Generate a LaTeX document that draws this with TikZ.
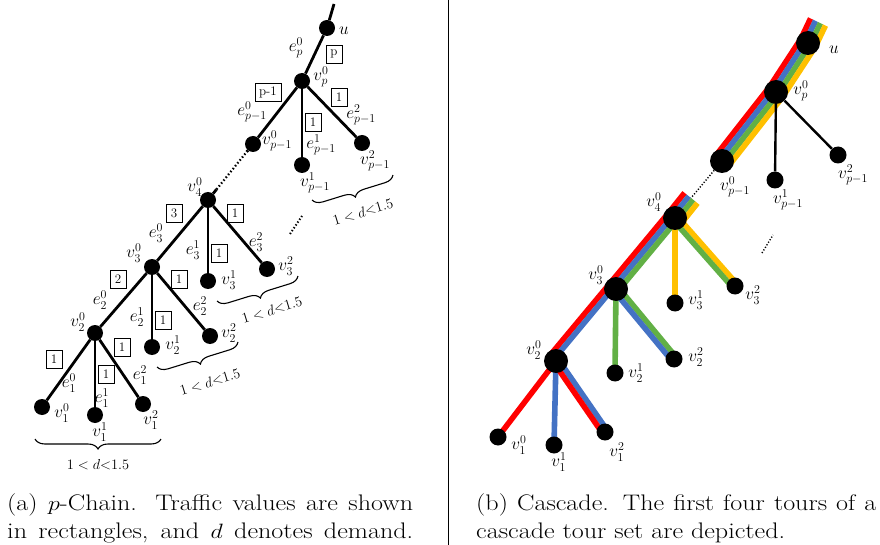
\documentclass[tikz,border=0pt]{standalone}
\usetikzlibrary{calc,backgrounds,decorations.pathreplacing}
\definecolor{tred}{HTML}{FF0000}
\definecolor{tblue}{HTML}{4472C4}
\definecolor{tgreen}{HTML}{62B045}
\definecolor{tyellow}{HTML}{FFC000}
\newcommand\tourband[4]{\draw[band,#1] ($(#2)!#4!90:(#3)$) -- ($(#3)!#4!-90:(#2)$);}
\begin{document}
\begin{tikzpicture}[x=1pt,y=-1pt,
  dotL/.style={circle, fill=black, inner sep=0pt, minimum size=16pt},
  bigR/.style={circle, fill=black, inner sep=0pt, minimum size=24pt},
  smallR/.style={circle, fill=black, inner sep=0pt, minimum size=17pt},
  edge/.style={line width=2.8pt},
  lab/.style={font=\fontsize{18}{20}\selectfont, inner sep=0pt},
  tbox/.style={draw, line width=0.8pt, font=\fontsize{13}{15}\selectfont, inner sep=0pt, minimum width=16pt, minimum height=18pt},
  band/.style={line width=5.6pt},
  brc/.style={decorate, decoration={brace, mirror, amplitude=10pt}, line width=1.1pt},
  dlab/.style={font=\fontsize{14}{16}\selectfont, inner sep=0pt},
  captext/.style={font=\fontsize{22.5}{26}\selectfont, inner sep=0pt, anchor=base west, xscale=1.16}
]
\useasboundingbox (0,0) rectangle (880,545);

% ---------- divider ----------
\coordinate (divT) at (448,0);
\coordinate (divB) at (448,545);
\draw[line width=1pt] (divT) -- (divB);

% ---------- (a) p-Chain ----------
\node[dotL] (Lu) at (327,28) {};
\node[dotL] (Lvp) at (302,81) {};
\node[dotL] (Lvp1) at (253,144) {};
\node[dotL] (Lvp1a) at (302,165) {};
\node[dotL] (Lvp1b) at (362,143) {};
\node[dotL] (Lv4) at (208,200) {};
\node[dotL] (Lv3) at (152,267) {};
\node[dotL] (Lv31) at (208,281) {};
\node[dotL] (Lv32) at (267,269) {};
\node[dotL] (Lv2) at (95,333) {};
\node[dotL] (Lv21) at (152,347) {};
\node[dotL] (Lv22) at (210,336) {};
\node[dotL] (Lv10) at (42,407) {};
\node[dotL] (Lv11) at (95,415) {};
\node[dotL] (Lv12) at (143,404) {};
\coordinate (Ltop) at (334,4);

\draw[edge] (Ltop) -- (Lu);
\draw[edge] (Lu) -- (Lvp);
\draw[edge] (Lvp) -- (Lvp1);
\draw[edge] (Lvp) -- (Lvp1a);
\draw[edge] (Lvp) -- (Lvp1b);
\draw[edge] (Lv4) -- ($(Lv4)!0.19!(Lvp1)$);
\draw[line width=2.2pt, dash pattern=on 1.5pt off 2.2pt] ($(Lv4)!0.19!(Lvp1)$) -- ($(Lv4)!0.86!(Lvp1)$);
\draw[edge] ($(Lv4)!0.86!(Lvp1)$) -- (Lvp1);
\draw[edge] (Lv4) -- (Lv3);
\draw[edge] (Lv4) -- (Lv31);
\draw[edge] (Lv4) -- (Lv32);
\draw[edge] (Lv3) -- (Lv2);
\draw[edge] (Lv3) -- (Lv21);
\draw[edge] (Lv3) -- (Lv22);
\draw[edge] (Lv2) -- (Lv10);
\draw[edge] (Lv2) -- (Lv11);
\draw[edge] (Lv2) -- (Lv12);

% vertex labels
\node[lab] (lLu) at (344,31) {$u$};
\node[lab] (lLvp) at (321,77) {$v_p^0$};
\node[lab] (lLvp1) at (277,141) {$v_{p-1}^0$};
\node[lab] (lLvp1a) at (315,183) {$v_{p-1}^1$};
\node[lab] (lLvp1b) at (375,161) {$v_{p-1}^2$};
\node[lab] (lLv4) at (195,187) {$v_4^0$};
\node[lab] (lLv3) at (134,253) {$v_3^0$};
\node[lab] (lLv31) at (229,280) {$v_3^1$};
\node[lab] (lLv32) at (286,266) {$v_3^2$};
\node[lab] (lLv2) at (78,322) {$v_2^0$};
\node[lab] (lLv21) at (173,345) {$v_2^1$};
\node[lab] (lLv22) at (229,333) {$v_2^2$};
\node[lab] (lLv10) at (62,413) {$v_1^0$};
\node[lab] (lLv11) at (100,432) {$v_1^1$};
\node[lab] (lLv12) at (151,420) {$v_1^2$};
% edge labels
\node[lab] (eP0) at (296,48) {$e_p^0$};
\node[lab] (eQ0) at (252,112) {$e_{p-1}^0$};
\node[lab] (eQ1) at (321,145) {$e_{p-1}^1$};
\node[lab] (eQ2) at (361,115) {$e_{p-1}^2$};
\node[lab] (e30) at (156,233) {$e_3^0$};
\node[lab] (e31) at (193,250) {$e_3^1$};
\node[lab] (e32) at (256,242) {$e_3^2$};
\node[lab] (e20) at (100,300) {$e_2^0$};
\node[lab] (e21) at (137,317) {$e_2^1$};
\node[lab] (e22) at (200,306) {$e_2^2$};
\node[lab] (e10) at (69,383) {$e_1^0$};
\node[lab] (e11) at (102,398) {$e_1^1$};
\node[lab] (e12) at (140,375) {$e_1^2$};
% traffic boxes
\node[tbox] (bP) at (334,54) {p};
\node[tbox, minimum width=26pt] (bQ0) at (268,92) {p-1};
\node[tbox] (bQ2) at (339,97) {1};
\node[tbox] (bQ1) at (313,122) {1};
\node[tbox] (b30) at (174,213) {3};
\node[tbox] (b32) at (235,213) {1};
\node[tbox] (b31) at (219,253) {1};
\node[tbox] (b20) at (118,279) {2};
\node[tbox] (b22) at (179,279) {1};
\node[tbox] (b21) at (163,320) {1};
\node[tbox] (b10) at (54,359) {1};
\node[tbox] (b11) at (106,374) {1};
\node[tbox] (b12) at (122,347) {1};

% braces
\coordinate (br1a) at (35,439);
\coordinate (br1b) at (161,439);
\draw[brc] (br1a) -- (br1b);
\node[dlab] (d1) at (98,465) {$1<d{<}1.5$};
\coordinate (br2a) at (157,367);
\coordinate (br2b) at (238,342);
\draw[brc] (br2a) -- (br2b);
\node[dlab, rotate=17] (d2) at (210,382) {$1<d{<}1.5$};
\coordinate (br3a) at (217,301);
\coordinate (br3b) at (298,276);
\draw[brc] (br3a) -- (br3b);
\node[dlab, rotate=17] (d3) at (272,310) {$1<d{<}1.5$};
\coordinate (br4a) at (312,200);
\coordinate (br4b) at (393,175);
\draw[brc] (br4a) -- (br4b);
\node[dlab, rotate=17] (d4) at (363,212) {$1<d{<}1.5$};
% dots between levels
\coordinate (Ld1) at (290,234);
\coordinate (Ld2) at (302,216);
\draw[line width=2pt, dash pattern=on 1.4pt off 2pt] (Ld1) -- (Ld2);

% ---------- (b) Cascade ----------
\node[bigR] (Ru) at (808,43) {};
\node[bigR] (Rvp) at (776,92) {};
\node[bigR] (Rvp1) at (722,161) {};
\node[smallR] (Rvp1a) at (775,180) {};
\node[smallR] (Rvp1b) at (838,155) {};
\node[bigR] (Rv4) at (675,218) {};
\node[bigR] (Rv3) at (616,289) {};
\node[smallR] (Rv31) at (675,303) {};
\node[smallR] (Rv32) at (735,286) {};
\node[bigR] (Rv2) at (556,361) {};
\node[smallR] (Rv21) at (615,373) {};
\node[smallR] (Rv22) at (674,359) {};
\node[smallR] (Rv10) at (498,437) {};
\node[smallR] (Rv11) at (554,445) {};
\node[smallR] (Rv12) at (605,432) {};
\coordinate (Rutop) at (818,22);
\coordinate (Rv4top) at (691,198);

\begin{scope}[on background layer]
  \foreach \a/\b in {Rvp1/Rvp, Rvp/Ru, Ru/Rutop, Rv4/Rv4top} {
    \tourband{tred}{\a}{\b}{8.25pt}
    \tourband{tblue}{\a}{\b}{2.75pt}
    \tourband{tgreen}{\a}{\b}{-2.75pt}
    \tourband{tyellow}{\a}{\b}{-8.25pt}
  }
  \tourband{tred}{Rv3}{Rv4}{8.25pt}
  \tourband{tblue}{Rv3}{Rv4}{2.75pt}
  \tourband{tgreen}{Rv3}{Rv4}{-2.75pt}
  \tourband{tred}{Rv2}{Rv3}{8.25pt}
  \tourband{tblue}{Rv2}{Rv3}{2.75pt}
  \tourband{tyellow}{Rv4}{Rv31}{0pt}
  \tourband{tyellow}{Rv4}{Rv32}{2.75pt}
  \tourband{tgreen}{Rv4}{Rv32}{-2.75pt}
  \tourband{tgreen}{Rv3}{Rv21}{0pt}
  \tourband{tgreen}{Rv3}{Rv22}{2.75pt}
  \tourband{tblue}{Rv3}{Rv22}{-2.75pt}
  \tourband{tred}{Rv2}{Rv10}{0pt}
  \tourband{tblue}{Rv2}{Rv11}{0pt}
  \tourband{tblue}{Rv2}{Rv12}{2.75pt}
  \tourband{tred}{Rv2}{Rv12}{-2.75pt}
\end{scope}

\draw[line width=2.4pt] (Rvp) -- (Rvp1a);
\draw[line width=2.4pt] (Rvp) -- (Rvp1b);
\draw[line width=1.4pt, dash pattern=on 1.2pt off 1.8pt] (Rvp1) -- (Rv4top);
\coordinate (Rd1) at (762,253);
\coordinate (Rd2) at (773,235);
\draw[line width=1.4pt, dash pattern=on 1.2pt off 1.8pt] (Rd1) -- (Rd2);

\node[lab] (lRu) at (834,50) {$u$};
\node[lab] (lRvp) at (801,91) {$v_p^0$};
\node[lab] (lRvp1) at (735,187) {$v_{p-1}^0$};
\node[lab] (lRvp1a) at (788,200) {$v_{p-1}^1$};
\node[lab] (lRvp1b) at (853,175) {$v_{p-1}^2$};
\node[lab] (lRv4) at (654,202) {$v_4^0$};
\node[lab] (lRv3) at (596,275) {$v_3^0$};
\node[lab] (lRv31) at (696,300) {$v_3^1$};
\node[lab] (lRv32) at (753,295) {$v_3^2$};
\node[lab] (lRv2) at (534,350) {$v_2^0$};
\node[lab] (lRv21) at (636,373) {$v_2^1$};
\node[lab] (lRv22) at (696,357) {$v_2^2$};
\node[lab] (lRv10) at (519,445) {$v_1^0$};
\node[lab] (lRv11) at (559,462) {$v_1^1$};
\node[lab] (lRv12) at (617,452) {$v_1^2$};

% ---------- captions ----------
\node[captext] (capA1) at (7,510) {\makebox[350pt][s]{(a) $p$-Chain. Traffic values are shown}};
\node[captext] (capA2) at (7,538) {\makebox[350pt][s]{in rectangles, and $d$ denotes demand.}};
\node[captext] (capB1) at (476,510) {\makebox[345pt][s]{(b) Cascade. The first four tours of a}};
\node[captext] (capB2) at (476,538) {cascade tour set are depicted.};
\end{tikzpicture}
\end{document}
